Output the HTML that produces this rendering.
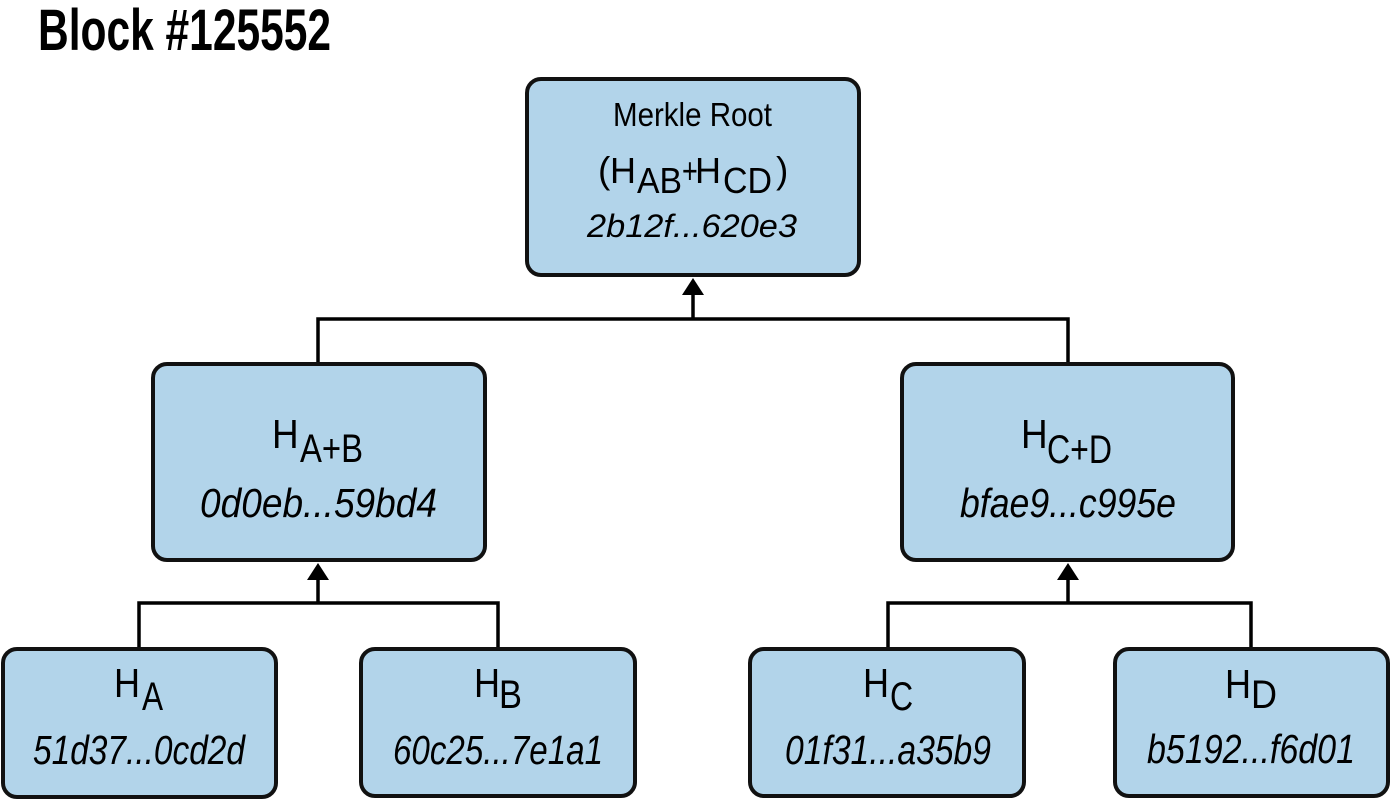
<!DOCTYPE html>
<html>
<head>
<meta charset="utf-8">
<style>
  html,body{margin:0;padding:0;background:#fff;}
  svg{display:block;}
  text{font-family:"Liberation Sans",sans-serif;fill:#000;}
  .it{font-style:italic;}
</style>
</head>
<body>
<svg width="1391" height="801" viewBox="0 0 1391 801" xmlns="http://www.w3.org/2000/svg">
  <!-- Title -->
  <text x="38" y="50" font-size="58" font-weight="bold" textLength="293" lengthAdjust="spacingAndGlyphs">Block #125552</text>

  <!-- Boxes -->
  <g fill="#b2d4ea" stroke="#111" stroke-width="4">
    <rect x="527" y="79" width="332" height="196" rx="14"/>
    <rect x="153" y="364" width="332" height="196" rx="14"/>
    <rect x="902" y="364" width="331" height="196" rx="14"/>
    <rect x="3" y="649" width="273" height="148" rx="14"/>
    <rect x="361" y="649" width="274" height="147" rx="14"/>
    <rect x="750" y="649" width="274" height="147" rx="14"/>
    <rect x="1115" y="649" width="273" height="147" rx="14"/>
  </g>

  <!-- Connectors -->
  <g stroke="#000" stroke-width="3.5" fill="none">
    <polyline points="318,362 318,319 1068,319 1068,362"/>
    <line x1="693" y1="319" x2="693" y2="290"/>
    <polyline points="139,647 139,603 498,603 498,647"/>
    <line x1="318" y1="603" x2="318" y2="575"/>
    <polyline points="888,647 888,603 1251,603 1251,647"/>
    <line x1="1068" y1="603" x2="1068" y2="575"/>
  </g>
  <g fill="#000">
    <polygon points="693,278 682,295 704,295"/>
    <polygon points="318,563 307,580 329,580"/>
    <polygon points="1068,563 1057,580 1079,580"/>
  </g>

  <!-- Root text -->
  <text x="613" y="126" font-size="33" textLength="159" lengthAdjust="spacingAndGlyphs">Merkle Root</text>
  <text x="598" y="183" font-size="37">(</text>
  <text x="610" y="183" font-size="36">H</text>
  <text x="637" y="193" font-size="36" textLength="45" lengthAdjust="spacingAndGlyphs">AB</text>
  <text transform="translate(682,183) scale(0.75,1)" font-size="36">+</text>
  <text x="695" y="183" font-size="36">H</text>
  <text x="723" y="193" font-size="36" textLength="49" lengthAdjust="spacingAndGlyphs">CD</text>
  <text x="776" y="183" font-size="37">)</text>
  <text class="it" x="587" y="237" font-size="32" textLength="210" lengthAdjust="spacingAndGlyphs">2b12f...620e3</text>

  <!-- Mid left -->
  <text transform="translate(272,448) scale(0.9,1)" font-size="41">H</text>
  <text x="300" y="462" font-size="40" textLength="63" lengthAdjust="spacingAndGlyphs">A+B</text>
  <text class="it" x="200" y="517" font-size="41" textLength="237" lengthAdjust="spacingAndGlyphs">0d0eb...59bd4</text>

  <!-- Mid right -->
  <text transform="translate(1021,448) scale(0.9,1)" font-size="41">H</text>
  <text x="1047" y="463" font-size="40" textLength="65" lengthAdjust="spacingAndGlyphs">C+D</text>
  <text class="it" x="960" y="517" font-size="41" textLength="216" lengthAdjust="spacingAndGlyphs">bfae9...c995e</text>

  <!-- HA -->
  <text transform="translate(114,697) scale(0.88,1)" font-size="41">H</text>
  <text transform="translate(142,710) scale(0.79,1)" font-size="40">A</text>
  <text class="it" x="33" y="764" font-size="41" textLength="212" lengthAdjust="spacingAndGlyphs">51d37...0cd2d</text>

  <!-- HB -->
  <text transform="translate(474,697) scale(0.88,1)" font-size="41">H</text>
  <text transform="translate(499,708) scale(0.86,1)" font-size="40">B</text>
  <text class="it" x="393" y="764" font-size="41" textLength="210" lengthAdjust="spacingAndGlyphs">60c25...7e1a1</text>

  <!-- HC -->
  <text transform="translate(863,697) scale(0.88,1)" font-size="41">H</text>
  <text transform="translate(890,710) scale(0.8,1)" font-size="40">C</text>
  <text class="it" x="785" y="764" font-size="41" textLength="206" lengthAdjust="spacingAndGlyphs">01f31...a35b9</text>

  <!-- HD -->
  <text transform="translate(1225,698) scale(0.88,1)" font-size="41">H</text>
  <text transform="translate(1251,708) scale(0.9,1)" font-size="40">D</text>
  <text class="it" x="1147" y="763" font-size="41" textLength="208" lengthAdjust="spacingAndGlyphs">b5192...f6d01</text>
</svg>
</body>
</html>
